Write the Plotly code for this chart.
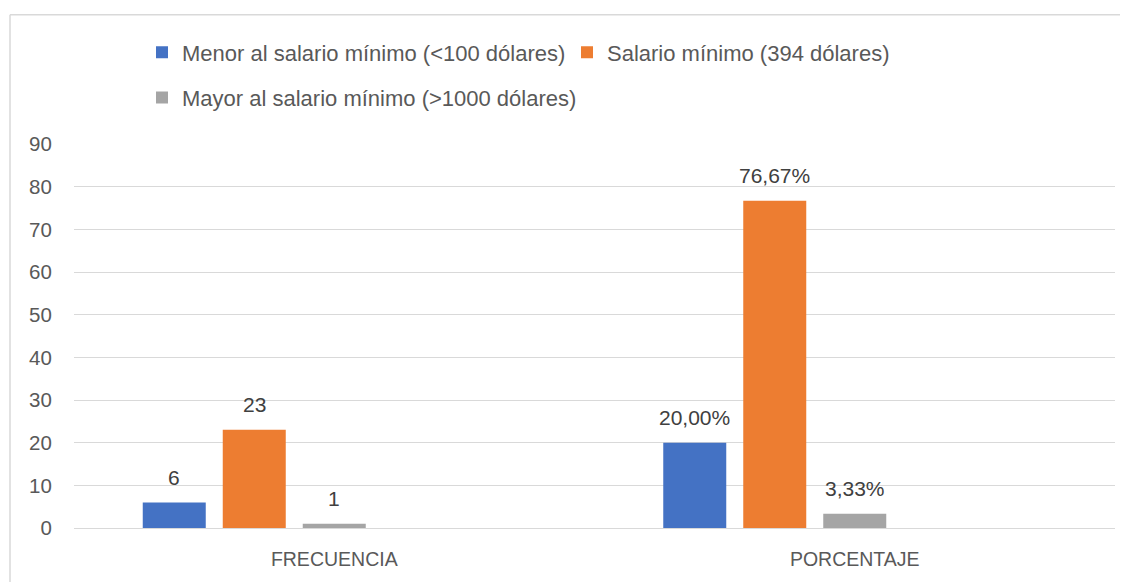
import plotly.graph_objects as go

categories = ["FRECUENCIA", "PORCENTAJE"]
series_names = [
    "Menor al salario mínimo (<100 dólares)",
    "Salario mínimo (394 dólares)",
    "Mayor al salario mínimo (>1000 dólares)",
]
menor = [6, 20.00]
salario = [23, 76.67]
mayor = [1, 3.33]
labels_menor = ["6", "20,00%"]
labels_salario = ["23", "76,67%"]
labels_mayor = ["1", "3,33%"]
y_ticks = [0, 10, 20, 30, 40, 50, 60, 70, 80, 90]

colors = ["#4472C4", "#ED7D31", "#A5A5A5"]
values = [menor, salario, mayor]
labels = [labels_menor, labels_salario, labels_mayor]
legends = ["legend", "legend", "legend2"]

FONT = "Liberation Sans"
OFF = 8  # page body margin
W, H = 1128 - OFF, 582 - OFF
ML, MR, MT, MB = 74 - OFF, 13, 144 - OFF, 52
PW = W - ML - MR
PH = H - MT - MB

slot = 80 / (PW / 2)      # spacing between bar centers, in category units
bw = 63 / (PW / 2)        # bar width, in category units

fig = go.Figure()
annotations = []
for i, (name, vals, labs, col, lg) in enumerate(zip(series_names, values, labels, colors, legends)):
    center = (i - 2) * slot
    fig.add_trace(go.Bar(
        name=name, x=categories, y=vals,
        marker=dict(color=col, line=dict(width=0)),
        width=bw, offset=center - bw / 2,
        legend=lg,
    ))
    for j, (v, t) in enumerate(zip(vals, labs)):
        annotations.append(dict(
            x=j + center, y=v, xref="x", yref="y", text=t, showarrow=False,
            yshift=25, xanchor="center", yanchor="middle",
            font=dict(family=FONT, size=21, color="#404040"),
        ))

def px_x(p):
    return (p - OFF - ML) / PW

def px_y(p):
    return (H - MB - (p - OFF)) / PH

shapes = [
    dict(type="line", xref="paper", yref="paper", x0=px_x(10), x1=px_x(1140),
         y0=px_y(14), y1=px_y(14), line=dict(color="#D9D9D9", width=1.5)),
    dict(type="line", xref="paper", yref="paper", x0=px_x(10), x1=px_x(10),
         y0=px_y(14), y1=px_y(600), line=dict(color="#D9D9D9", width=1.5)),
]

fig.update_layout(
    width=W, height=H,
    margin=dict(l=ML, r=MR, t=MT, b=MB),
    paper_bgcolor="white", plot_bgcolor="white",
    barmode="overlay",
    font=dict(family=FONT, size=20, color="#595959"),
    annotations=annotations,
    shapes=shapes,
    legend=dict(
        orientation="h", x=px_x(142), xanchor="left", y=px_y(52), yanchor="middle",
        font=dict(family=FONT, size=22, color="#595959"),
        entrywidth=380, entrywidthmode="pixels", bgcolor="rgba(0,0,0,0)",
    ),
    legend2=dict(
        orientation="h", x=px_x(142), xanchor="left", y=px_y(97.5), yanchor="middle",
        font=dict(family=FONT, size=22, color="#595959"), bgcolor="rgba(0,0,0,0)",
    ),
    xaxis=dict(
        type="category", range=[-0.5, 1.5], showgrid=False, showline=False,
        ticks="outside", ticklen=14, tickcolor="rgba(0,0,0,0)",
        tickfont=dict(family=FONT, size=19.5, color="#595959"), fixedrange=True,
    ),
    yaxis=dict(
        range=[0, 90], tickvals=y_ticks, showgrid=True, gridcolor="#D9D9D9", gridwidth=1.3,
        zeroline=True, zerolinecolor="#D9D9D9", zerolinewidth=1.3, showline=False,
        ticks="outside", ticklen=17, tickcolor="rgba(0,0,0,0)",
        tickfont=dict(family=FONT, size=20.5, color="#595959"), fixedrange=True,
    ),
)

fig.write_html("out.html")
